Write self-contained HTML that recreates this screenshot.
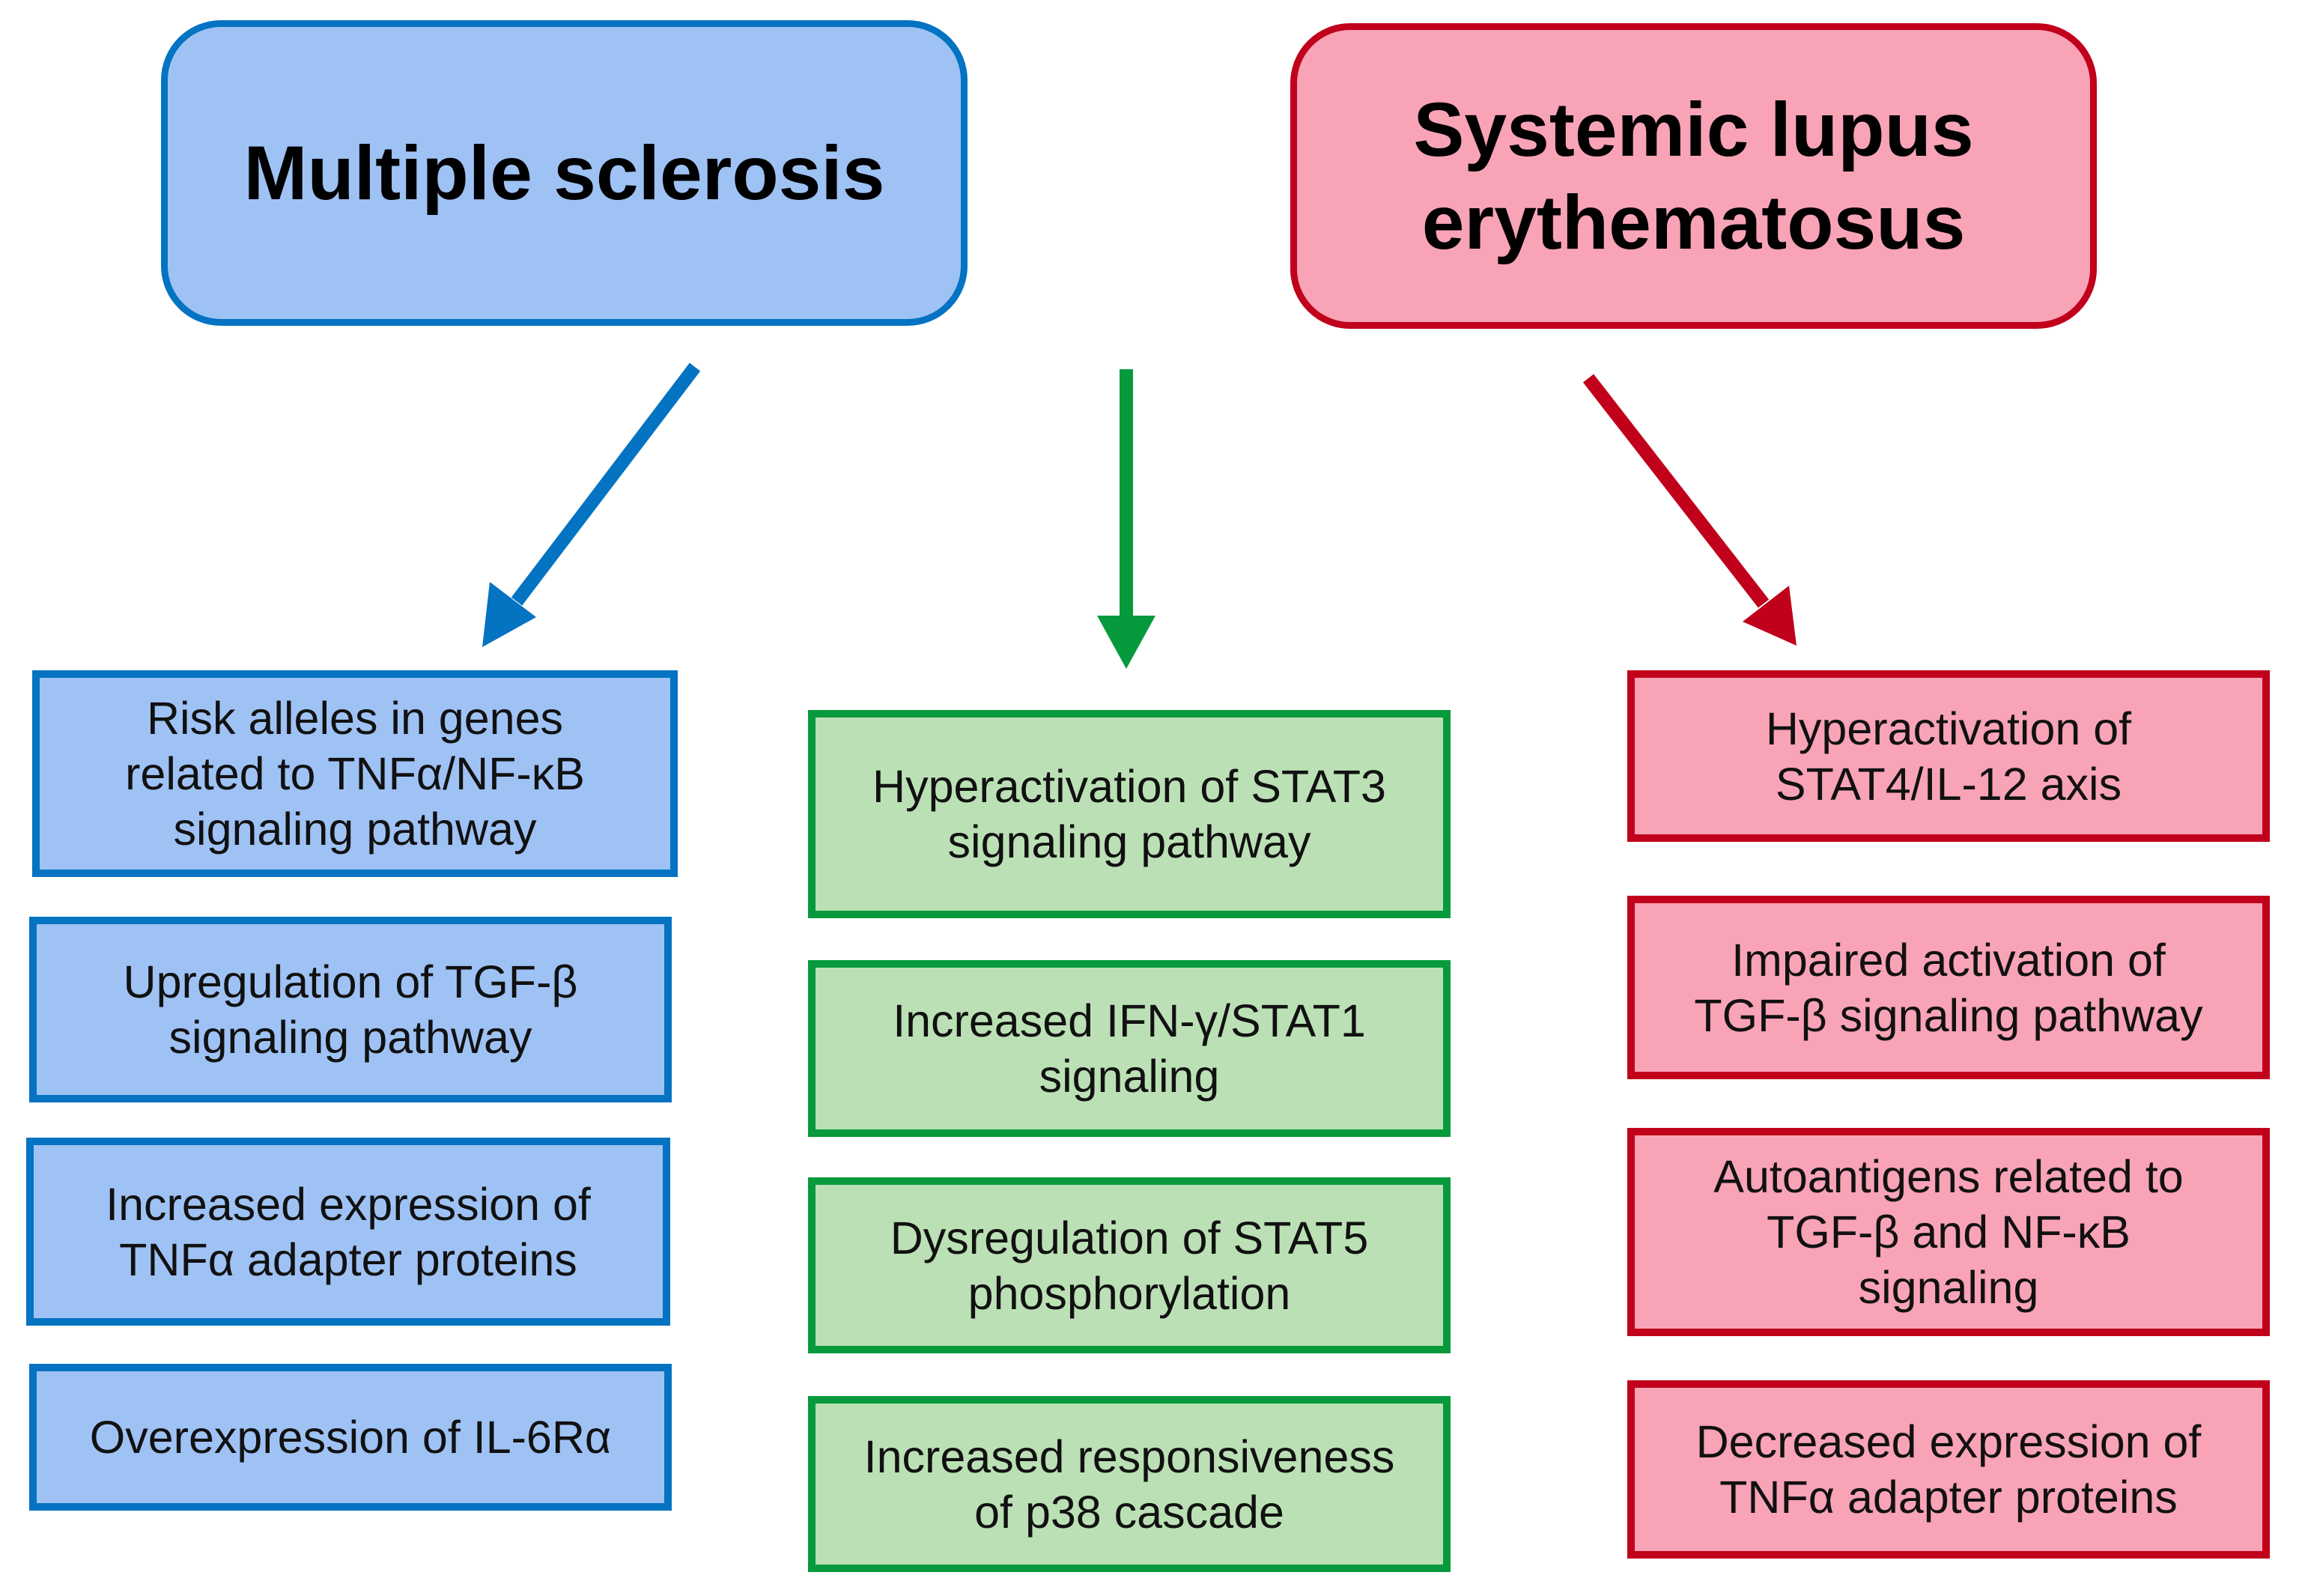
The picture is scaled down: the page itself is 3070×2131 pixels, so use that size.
<!DOCTYPE html>
<html><head><meta charset="utf-8"><style>
html,body{margin:0;padding:0;background:#fff}
body{width:3070px;height:2131px;position:relative;overflow:hidden;font-family:"Liberation Sans",Arial,sans-serif}
.b{position:absolute;box-sizing:border-box;display:flex;align-items:center;justify-content:center;text-align:center;font-size:61px;line-height:74px;color:#111}
.bl{background:#9FC2F5;border:10px solid #0373C2}
.gr{background:#BBE0B5;border:10px solid #069A3C}
.rd{background:#F9A3B7;border:10px solid #C1001B}
.t{font-weight:bold;font-size:102px;line-height:124px;border-width:9px;border-radius:80px;color:#000}
</style></head><body>
<div class="b bl t" style="left:215px;top:27px;width:1077px;height:408px">Multiple sclerosis</div>
<div class="b rd t" style="left:1723px;top:31px;width:1077px;height:408px">Systemic lupus<br>erythematosus</div>

<svg width="3070" height="2131" style="position:absolute;left:0;top:0">
<line x1="928" y1="490" x2="690" y2="803" stroke="#0373C2" stroke-width="18"/>
<polygon points="644,864 716,824 654,777" fill="#0373C2"/>
<line x1="1504" y1="493" x2="1504" y2="830" stroke="#069A3C" stroke-width="18"/>
<polygon points="1504,893 1465,822 1543,822" fill="#069A3C"/>
<line x1="2121" y1="505" x2="2355" y2="806" stroke="#C1001B" stroke-width="18"/>
<polygon points="2399,862 2389,782 2327,830" fill="#C1001B"/>
</svg>

<div class="b bl" style="left:43px;top:895px;width:862px;height:276px">Risk alleles in genes<br>related to TNFα/NF-κB<br>signaling pathway</div>
<div class="b bl" style="left:39px;top:1224px;width:858px;height:248px">Upregulation of TGF-β<br>signaling pathway</div>
<div class="b bl" style="left:35px;top:1519px;width:860px;height:251px">Increased expression of<br>TNFα adapter proteins</div>
<div class="b bl" style="left:39px;top:1821px;width:858px;height:196px">Overexpression of IL-6Rα</div>

<div class="b gr" style="left:1079px;top:948px;width:858px;height:278px">Hyperactivation of STAT3<br>signaling pathway</div>
<div class="b gr" style="left:1079px;top:1282px;width:858px;height:236px">Increased IFN-γ/STAT1<br>signaling</div>
<div class="b gr" style="left:1079px;top:1572px;width:858px;height:235px">Dysregulation of STAT5<br>phosphorylation</div>
<div class="b gr" style="left:1079px;top:1864px;width:858px;height:235px">Increased responsiveness<br>of p38 cascade</div>

<div class="b rd" style="left:2173px;top:895px;width:858px;height:229px">Hyperactivation of<br>STAT4/IL-12 axis</div>
<div class="b rd" style="left:2173px;top:1196px;width:858px;height:245px">Impaired activation of<br>TGF-β signaling pathway</div>
<div class="b rd" style="left:2173px;top:1506px;width:858px;height:278px">Autoantigens related to<br>TGF-β and NF-κB<br>signaling</div>
<div class="b rd" style="left:2173px;top:1843px;width:858px;height:238px">Decreased expression of<br>TNFα adapter proteins</div>
</body></html>
